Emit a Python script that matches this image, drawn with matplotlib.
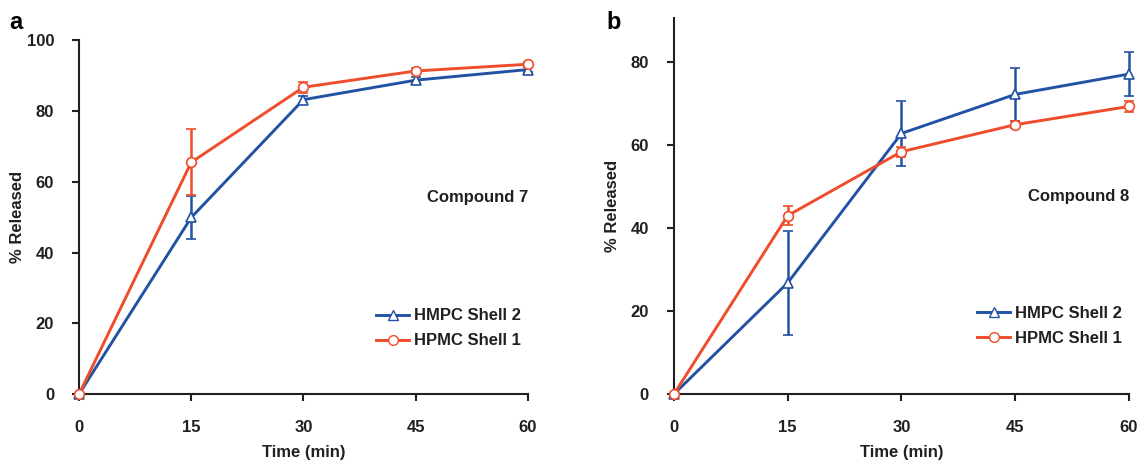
import matplotlib
matplotlib.use('Agg')
import matplotlib.pyplot as plt
import matplotlib.lines as mlines

plt.rcParams['font.family'] = ['Liberation Sans', 'DejaVu Sans']
plt.rcParams['font.weight'] = 'bold'

BLUE = '#2352a4'
RED = '#ef4c2c'
INK = '#231f20'

time_min = [0, 15, 30, 45, 60]

# Compound 7
c7_shell2 = [0, 49.9, 83.2, 88.7, 91.7]
c7_shell2_err = [0, 6.1, 1.0, 0.8, 0.8]
c7_shell1 = [0, 65.5, 86.7, 91.3, 93.2]
c7_shell1_err = [0, 9.3, 1.5, 0.8, 0.6]

# Compound 8
c8_shell2 = [0, 26.8, 62.8, 72.2, 77.1]
c8_shell2_err = [0, 12.5, 7.8, 6.3, 5.2]
c8_shell1 = [0, 43.0, 58.4, 64.9, 69.3]
c8_shell1_err = [0, 2.3, 1.2, 0.8, 1.3]

panels = [
    dict(letter='a', label='Compound 7', s2=c7_shell2, e2=c7_shell2_err,
         s1=c7_shell1, e1=c7_shell1_err, ylim=100, yticks=[0, 20, 40, 60, 80, 100],
         rect=[0.0694, 0.147, 0.394, 0.766], note_y=55.6, letter_x=9),
    dict(letter='b', label='Compound 8', s2=c8_shell2, e2=c8_shell2_err,
         s1=c8_shell1, e1=c8_shell1_err, ylim=90.6, yticks=[0, 20, 40, 60, 80],
         rect=[0.5917, 0.147, 0.3995, 0.814], note_y=47.5, letter_x=606),
]

FS = 12
fig = plt.figure(figsize=(11.39, 4.62), dpi=100)

for p in panels:
    ax = fig.add_axes(p['rect'])
    ax.errorbar(time_min, p['s2'], yerr=p['e2'], color=BLUE, lw=2.1,
                marker='^', markersize=7, markerfacecolor='white',
                markeredgecolor=BLUE, markeredgewidth=1.2, capsize=3.5,
                elinewidth=1.8, capthick=1.8, clip_on=False, zorder=3)
    ax.errorbar(time_min, p['s1'], yerr=p['e1'], color=RED, lw=2.1,
                marker='o', markersize=7, markerfacecolor='white',
                markeredgecolor=RED, markeredgewidth=1.2, capsize=3.5,
                elinewidth=1.8, capthick=1.8, clip_on=False, zorder=4)

    ax.set_xlim(0, 60)
    ax.set_ylim(0, p['ylim'])
    ax.set_xticks(time_min)
    ax.set_yticks(p['yticks'])
    for side in ['top', 'right']:
        ax.spines[side].set_visible(False)
    for side in ['left', 'bottom']:
        ax.spines[side].set_linewidth(1.5)
        ax.spines[side].set_color(INK)
    ax.tick_params(direction='out', length=5, width=1.5, colors=INK,
                   labelsize=FS)
    ax.tick_params(axis='x', pad=14)
    ax.tick_params(axis='y', pad=13)
    for t in ax.get_xticklabels() + ax.get_yticklabels():
        t.set_fontweight('bold')

    h_px = p['rect'][3] * 462
    w_px = p['rect'][2] * 1139
    ax.set_xlabel('Time (min)', fontsize=FS, fontweight='bold', color=INK)
    ax.set_ylabel('% Released', fontsize=FS, fontweight='bold', color=INK)
    ax.xaxis.set_label_coords(0.5, -51 / h_px)
    ax.yaxis.set_label_coords(-54 / w_px, 0.5)

    ax.text(60, p['note_y'], p['label'], ha='right', va='center',
            fontsize=FS, fontweight='bold', color=INK)

    shell2 = mlines.Line2D([], [], color=BLUE, lw=2.1, marker='^', markersize=7,
                           markerfacecolor='white', markeredgecolor=BLUE,
                           label='HMPC Shell 2')
    shell1 = mlines.Line2D([], [], color=RED, lw=2.1, marker='o', markersize=7,
                           markerfacecolor='white', markeredgecolor=RED,
                           label='HPMC Shell 1')
    leg = ax.legend(handles=[shell2, shell1], loc='lower right',
                    bbox_to_anchor=(1.0, 0.11), frameon=False,
                    fontsize=FS, handlelength=2.0, handletextpad=0.3,
                    labelspacing=0.6, borderaxespad=0.0)
    for t in leg.get_texts():
        t.set_fontweight('bold')
        t.set_color(INK)

    fig.text(p['letter_x'] / 1139, 1 - 29 / 462, p['letter'], fontsize=17,
             fontweight='bold', color='black', ha='left', va='baseline')

fig.savefig('out.png', dpi=100)
